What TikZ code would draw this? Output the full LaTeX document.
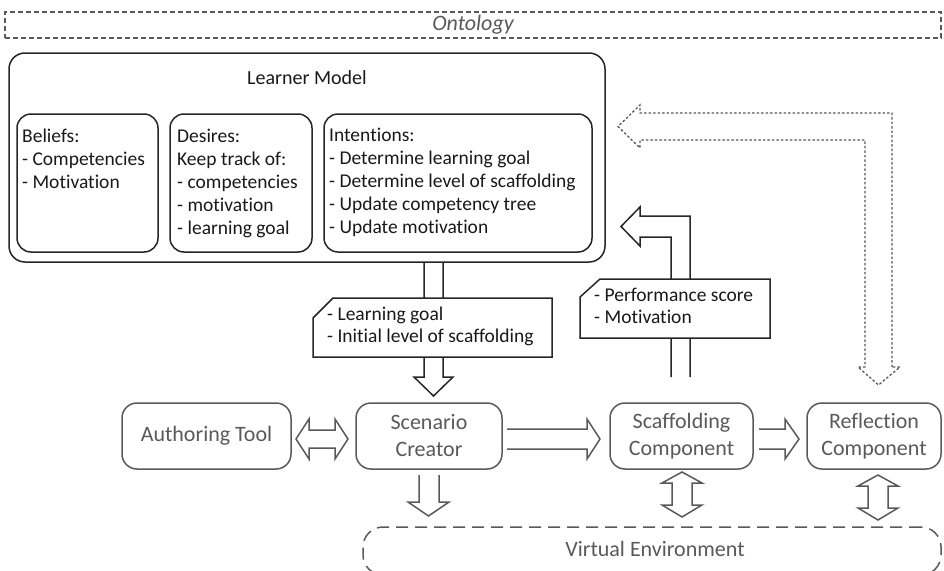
\documentclass[tikz,border=0pt]{standalone}
\usepackage{fontspec}
\setmainfont{Carlito}[Ligatures=NoCommon]
\begin{document}
\begin{tikzpicture}[x=1pt,y=-1pt,
  ink/.style={draw=black!85, line width=1.5pt},
  soft/.style={draw=black!65, line width=1.5pt},
  bigtext/.style={font=\fontsize{20}{23}\selectfont, text=black!90},
  listtext/.style={font=\fontsize{19.5}{23}\selectfont, text=black!90, align=left, anchor=north west, inner sep=0pt},
  notetext/.style={font=\fontsize{19.5}{21.5}\selectfont, text=black!90, align=left, anchor=north west, inner sep=0pt},
  comptext/.style={font=\fontsize{22}{27}\selectfont, text=black!65, align=center},
]
\useasboundingbox (0,0) rectangle (944,570);
\clip (0,0) rectangle (944,570);

% Ontology frame
\node[draw=black!65, line width=1.3pt, dash pattern=on 5pt off 3pt,
      minimum width=936pt, minimum height=26pt, inner sep=0pt,
      font=\fontsize{22}{24}\selectfont\itshape, text=black!65]
      (onto) at (473,25) {Ontology};

% Learner model and its three parts
\node[ink, rounded corners=16pt, minimum width=596pt, minimum height=209pt, inner sep=0pt] (lm) at (307,157.5) {};
\node[bigtext] (lmtitle) at (307,78) {Learner Model};

\node[ink, rounded corners=14pt, minimum width=141pt, minimum height=138pt, inner sep=0pt] (bel) at (87.5,183) {};
\node[ink, rounded corners=14pt, minimum width=142pt, minimum height=138pt, inner sep=0pt] (des) at (241,183) {};
\node[ink, rounded corners=14pt, minimum width=268pt, minimum height=138pt, inner sep=0pt] (int) at (458,183) {};

\node[listtext] (beltext) at (22,126.4) {\strut Beliefs:\\- Competencies\\- Motivation};
\node[listtext] (destext) at (177,126.4) {\strut Desires:\\Keep track of:\\- competencies\\- motivation\\- learning goal};
\node[listtext] (inttext) at (329,125.4) {\strut Intentions:\\- Determine learning goal\\- Determine level of scaffolding\\- Update competency tree\\- Update motivation};

% Components
\node[soft, rounded corners=15pt, minimum width=169pt, minimum height=66pt, inner sep=0pt, comptext] (auth) at (206.5,436) {Authoring Tool};
\node[soft, rounded corners=15pt, minimum width=146pt, minimum height=66pt, inner sep=0pt, comptext] (scen) at (429,436) {Scenario\\Creator};
\node[soft, rounded corners=15pt, minimum width=143pt, minimum height=66pt, inner sep=0pt, comptext] (scaf) at (681.5,436) {Scaffolding\\Component};
\node[soft, rounded corners=15pt, minimum width=134pt, minimum height=66pt, inner sep=0pt, comptext] (refl) at (874,436) {Reflection\\Component};

% Virtual environment
\node[draw=black!65, line width=1.5pt, dash pattern=on 12pt off 7pt, rounded corners=20pt,
      minimum width=578pt, minimum height=48pt, inner sep=0pt] (ve) at (652,551) {};
\node[comptext] (vetext) at (655,549) {Virtual Environment};

% Learner model -> scenario creator
\draw[ink, line join=miter] (424,262) -- (424,377) -- (414,377) -- (433.5,396) -- (453,377) -- (443,377) -- (443,262);
% scaffolding component -> learner model (bent)
\draw[ink, line join=miter] (690,377) -- (690,216) -- (640,216) -- (640,207) -- (621,226.5) -- (640,246) -- (640,237) -- (671,237) -- (671,377);

% reflection <-> learner model (dotted, bent)
\draw[draw=black!65, line width=1.3pt, dash pattern=on 2.5pt off 2pt, line join=miter]
  (892,367) -- (892,113) -- (640,113) -- (640,105) -- (618,126.5) -- (640,148) -- (640,140)
  -- (865,140) -- (865,367) -- (858,367) -- (878.5,385) -- (900,367) -- cycle;

% Callouts
\draw[ink, fill=white, line join=miter] (313,318) -- (333,298) -- (552,298) -- (552,357) -- (313,357) -- cycle;
\node[notetext] (lgtext) at (327,305.5) {\strut - Learning goal\\- Initial level of scaffolding};
\draw[ink, fill=white, line join=miter] (580,297) -- (600,279) -- (770,279) -- (770,338) -- (580,338) -- cycle;
\node[notetext] (pstext) at (594,286.5) {\strut - Performance score\\- Motivation};

% Authoring tool <-> scenario creator
\draw[soft, line join=miter] (296,439) -- (309,419) -- (309,430) -- (335,430) -- (335,419) -- (348,439)
  -- (335,459) -- (335,448) -- (309,448) -- (309,459) -- cycle;
% scenario creator -> scaffolding component
\draw[soft, line join=miter] (507,429) -- (587,429) -- (587,419) -- (600,439) -- (587,459) -- (587,449) -- (507,449);
% scaffolding component -> reflection component
\draw[soft, line join=miter] (759,429) -- (785,429) -- (785,419) -- (799,439) -- (785,459) -- (785,449) -- (759,449);
% scenario creator -> virtual environment
\draw[soft, line join=miter] (419,475) -- (419,502) -- (408,502) -- (428.5,516) -- (449,502) -- (439,502) -- (439,475);
% scaffolding component <-> virtual environment
\draw[soft, line join=miter] (682,472) -- (702,483) -- (692,483) -- (692,505) -- (702,505) -- (682,517)
  -- (662,505) -- (672,505) -- (672,483) -- (662,483) -- cycle;
% reflection component <-> virtual environment
\draw[soft, line join=miter] (878,475) -- (898,486) -- (888,486) -- (888,508) -- (898,508) -- (878,520)
  -- (858,508) -- (868,508) -- (868,486) -- (858,486) -- cycle;
\end{tikzpicture}
\end{document}
